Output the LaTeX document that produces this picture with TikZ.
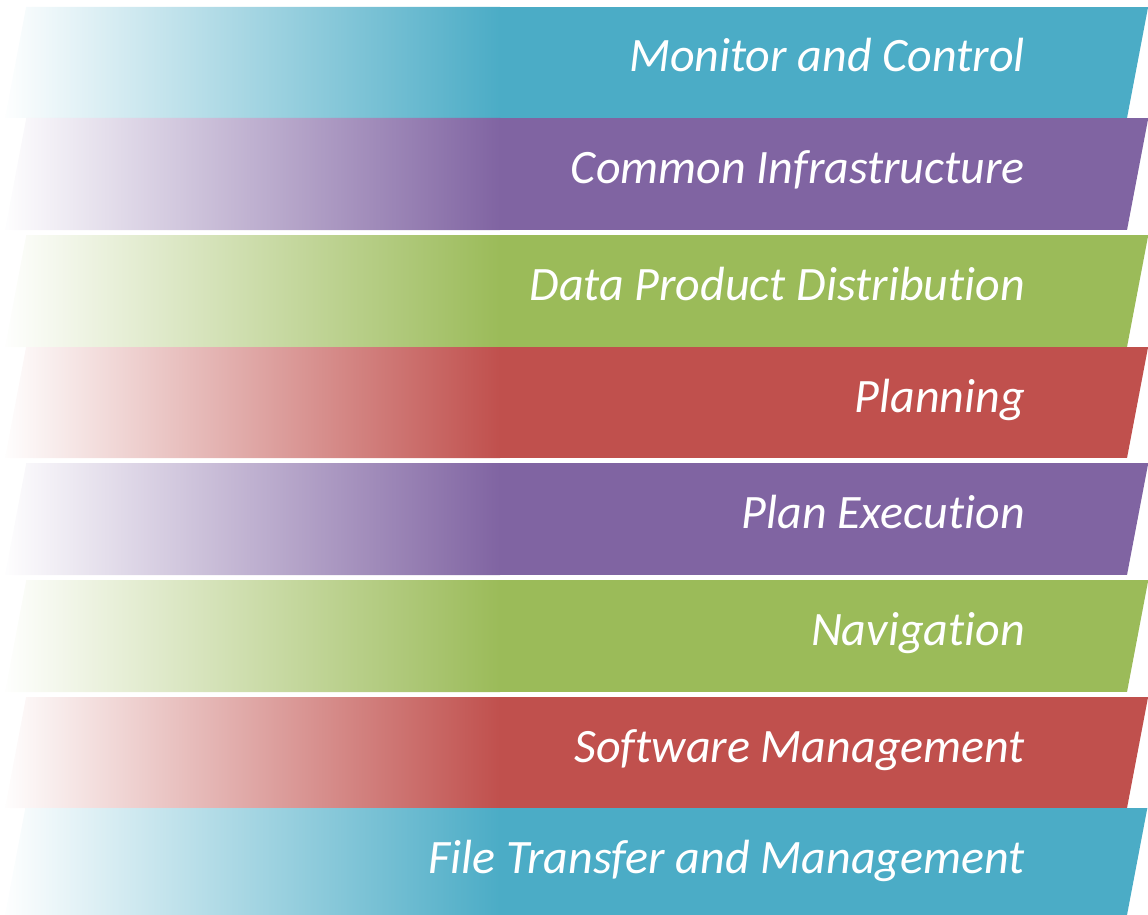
\documentclass[tikz,border=0pt]{standalone}
\usepackage{fontspec}
\setmainfont{Carlito}[Ligatures={NoCommon}]
\definecolor{cteal}{HTML}{4BACC6}
\definecolor{cpurple}{HTML}{8064A2}
\definecolor{cgreen}{HTML}{9BBB59}
\definecolor{cred}{HTML}{C0504D}
\newcommand\mybandcmd[5]{%
  \begin{scope}
    \clip ({5+0.19*(#2-#1)},#1) -- ({1127+0.19*(#2-#1)},#1) -- (1127,#2) -- (5,#2) -- cycle;
    \shade[left color=white, right color=#3] (0,#1) rectangle (500,#2);
    \fill[#3] (499,#1) rectangle (1160,#2);
  \end{scope}
  \node[lbl] (#5) at (1025,#1+65) {#4};
}
\begin{document}
\begin{tikzpicture}[x=1pt,y=-1pt,
  lbl/.style={text=white, font=\fontsize{48}{58}\selectfont\itshape, anchor=base east, inner sep=0pt}]
\useasboundingbox (0,0) rectangle (1148,915);
\mybandcmd{7}{118}{cteal}{Monitor and Control}{t1}
\mybandcmd{118}{230}{cpurple}{Common Infrastructure}{t2}
\mybandcmd{235}{347}{cgreen}{Data Product Distribution}{t3}
\mybandcmd{347}{458}{cred}{Planning}{t4}
\mybandcmd{463}{575}{cpurple}{Plan Execution}{t5}
\mybandcmd{580}{692}{cgreen}{Navigation}{t6}
\mybandcmd{697}{808}{cred}{Software Management}{t7}
\mybandcmd{808}{915}{cteal}{File Transfer and Management}{t8}
\end{tikzpicture}
\end{document}
